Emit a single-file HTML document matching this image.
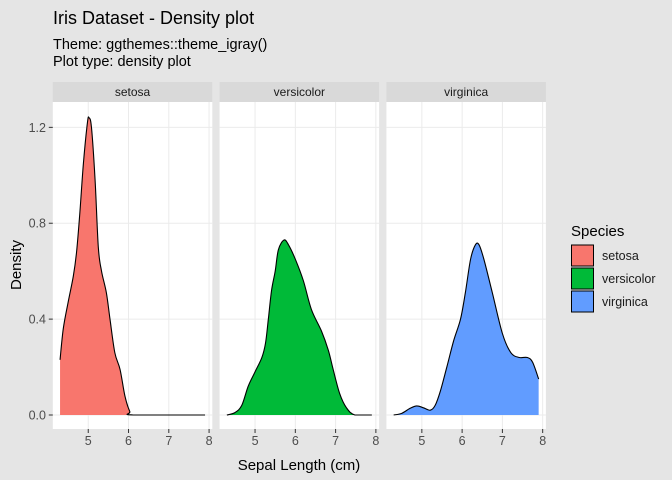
<!DOCTYPE html>
<html><head><meta charset="utf-8"><style>
body{margin:0;background:#e5e5e5;}
svg{display:block;font-family:"Liberation Sans",Arial,sans-serif;}
</style></head><body>
<svg width="672" height="480" viewBox="0 0 672 480">
<rect width="672" height="480" fill="#e5e5e5"/>
<text x="53" y="24" font-size="18" fill="#000">Iris Dataset - Density plot</text>
<text x="53" y="49" font-size="14.5" fill="#000">Theme: ggthemes::theme_igray()</text>
<text x="53" y="66" font-size="14.5" fill="#000">Plot type: density plot</text>
<g id="panels"></g>
<text x="299" y="470" font-size="15" text-anchor="middle" fill="#000">Sepal Length (cm)</text>
<text transform="translate(21,265) rotate(-90)" font-size="15" text-anchor="middle" fill="#000">Density</text>
<g>
<text x="571" y="236" font-size="15" fill="#000">Species</text>
<g id="legend-items"></g>
</g>
</svg>
<script>
const species=["setosa","versicolor","virginica"];
const colors=["#F8766D","#00BA38","#619CFF"];
const xTicks=[5,6,7,8];
const yTicks=[0,0.4,0.8,1.2];
const yTickLabels=["0.0","0.4","0.8","1.2"];
const setosaX=[4.30,4.38,4.50,4.63,4.71,4.79,4.88,4.98,5.02,5.08,5.17,5.25,5.33,5.45,5.54,5.66,5.79,5.91,6.03,6.12,7.9];
const setosaY=[0.23,0.36,0.47,0.58,0.68,0.84,1.05,1.22,1.24,1.20,0.98,0.70,0.60,0.51,0.40,0.26,0.19,0.08,0.015,0,0];
const versicolorX=[4.3,4.5,4.67,4.83,5.0,5.17,5.26,5.33,5.41,5.5,5.58,5.72,5.83,6.0,6.2,6.4,6.65,6.82,6.94,7.1,7.27,7.48,7.9];
const versicolorY=[0,0.01,0.04,0.12,0.18,0.24,0.30,0.40,0.52,0.60,0.69,0.73,0.71,0.65,0.56,0.44,0.35,0.27,0.19,0.09,0.03,0,0];
const virginicaX=[4.3,4.5,4.71,4.875,5.04,5.21,5.33,5.46,5.62,5.79,5.96,6.08,6.21,6.33,6.42,6.54,6.75,7.0,7.21,7.42,7.62,7.75,7.9];
const virginicaY=[0,0.007,0.028,0.038,0.03,0.02,0.04,0.10,0.20,0.31,0.40,0.51,0.65,0.71,0.71,0.65,0.51,0.34,0.26,0.24,0.24,0.22,0.15];
const seriesX=[setosaX,versicolorX,virginicaX];
const seriesY=[setosaY,versicolorY,virginicaY];

const NS="http://www.w3.org/2000/svg";
const panelLefts=[52.8,219.6,386.4], panelW=159.5, pTop=102, pBottom=429, stripTop=82;
const xMin=4.12,xMax=8.08;
function yScale(v){return 415-v*239.7;}
function mk(tag,attrs,parent){const e=document.createElementNS(NS,tag);for(const k in attrs)e.setAttribute(k,attrs[k]);parent.appendChild(e);return e;}
function smooth(P){
  let s='M'+P[0][0]+','+P[0][1];
  const base=yScale(0);
  for(let k=0;k<P.length-1;k++){
    const p0=P[Math.max(k-1,0)],p1=P[k],p2=P[k+1],p3=P[Math.min(k+2,P.length-1)];
    const c1x=p1[0]+(p2[0]-p0[0])/6,c1y=Math.min(base,p1[1]+(p2[1]-p0[1])/6);
    const c2x=p2[0]-(p3[0]-p1[0])/6,c2y=Math.min(base,p2[1]-(p3[1]-p1[1])/6);
    s+=' C'+c1x+','+c1y+' '+c2x+','+c2y+' '+p2[0]+','+p2[1];
  }
  return s;
}
const g=document.getElementById('panels');
species.forEach((sp,i)=>{
  const L=panelLefts[i];
  const xs=v=>L+(v-xMin)/(xMax-xMin)*panelW;
  const pg=mk('g',{},g);
  
  
  const strip=mk('rect',{x:L,y:stripTop,width:panelW,height:pTop-stripTop,fill:'#d9d9d9'},pg);
  
  
  const st=mk('text',{x:L+panelW/2,y:96,'font-size':12,'text-anchor':'middle',fill:'#1a1a1a'},pg);
  st.textContent=sp;
  
  
  const bg=mk('rect',{x:L,y:pTop,width:panelW,height:pBottom-pTop,fill:'#ffffff'},pg);
  
  
  yTicks.forEach(t=>{const l=mk('line',{x1:L,x2:L+panelW,y1:yScale(t),y2:yScale(t),stroke:'#ebebeb','stroke-width':1},pg);
    
    });
  xTicks.forEach(t=>{const l=mk('line',{x1:xs(t),x2:xs(t),y1:pTop,y2:pBottom,stroke:'#ebebeb','stroke-width':1},pg);
    
    
    const tk=mk('line',{x1:xs(t),x2:xs(t),y1:pBottom,y2:pBottom+4,stroke:'#333','stroke-width':1},pg);
    
    
    const tl=mk('text',{x:xs(t),y:pBottom+16,'font-size':12.5,'text-anchor':'middle',fill:'#4d4d4d'},pg);
    tl.textContent=t;
    
    });
  const X=seriesX[i],Y=seriesY[i];
  const P=X.map((x,k)=>[xs(x),yScale(Y[k])]);
  const curve=smooth(P);
  const d=curve+' L'+xs(X[X.length-1])+','+yScale(0)+' L'+xs(X[0])+','+yScale(0)+' Z';
  const area=mk('path',{d:d,fill:colors[i],stroke:'none'},pg);
  
  
  const line=mk('path',{d:curve,fill:'none',stroke:'#000','stroke-width':1.1,'stroke-linejoin':'round'},pg);
  
  
});
yTicks.forEach((t,j)=>{
  const tk=mk('line',{x1:48.8,x2:52.8,y1:yScale(t),y2:yScale(t),stroke:'#333','stroke-width':1},g);
  
  
  const tl=mk('text',{x:46,y:yScale(t)+4.5,'font-size':12.5,'text-anchor':'end',fill:'#4d4d4d'},g);
  tl.textContent=yTickLabels[j];
  
  
});
const lg=document.getElementById('legend-items');
species.forEach((sp,i)=>{
  const y=245+i*23;
  const r=mk('rect',{x:571.5,y:y,width:22,height:21,fill:colors[i],stroke:'#000','stroke-width':1},lg);
  
  
  const t=mk('text',{x:602,y:y+15,'font-size':12.5,fill:'#1a1a1a'},lg);
  t.textContent=sp;
  
  
});
</script>
</body></html>
